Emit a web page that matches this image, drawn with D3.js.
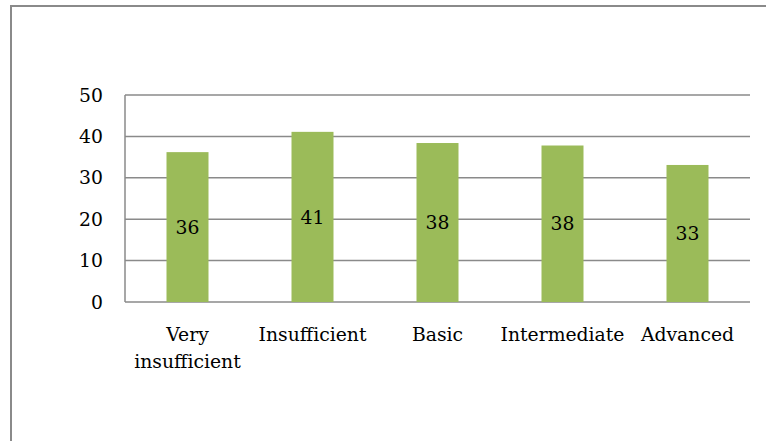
<!DOCTYPE html>
<html><head><meta charset="utf-8">
<script src="https://cdn.jsdelivr.net/npm/d3@7"></script>
<style>body{margin:0;background:#fff}svg{display:block}</style>
</head><body>
<svg id="c" width="766" height="441"></svg>
<script>
const categories = [["Very","insufficient"],["Insufficient"],["Basic"],["Intermediate"],["Advanced"]];
const values = [36.2, 41.1, 38.4, 37.8, 33.1];
const labels = ["36","41","38","38","33"];
const yTicks = [0,10,20,30,40,50];

const svg = d3.select("#c");
const font = "'DejaVu Serif'";
const fs = 18.8;
svg.append("rect").attr("x",11).attr("y",6).attr("width",800).attr("height",500)
  .attr("fill","#fff").attr("stroke","#8a8a8a").attr("stroke-width",2);

const m = {l:125, r:750, t:95, b:302};
const x = d3.scaleBand().domain(d3.range(categories.length)).range([m.l,m.r]).paddingInner(0.664).paddingOuter(0.332);
const y = d3.scaleLinear().domain([0,50]).range([m.b,m.t]);

const g = svg.append("g").style("font-family", font).style("font-size", fs+"px");
g.selectAll("line.grid").data(yTicks).join("line")
  .attr("x1",m.l).attr("x2",m.r).attr("y1",d=>y(d)).attr("y2",d=>y(d))
  .attr("stroke","#8a8a8a").attr("stroke-width",1.5);
g.append("line").attr("x1",m.l).attr("x2",m.l).attr("y1",m.t).attr("y2",m.b)
  .attr("stroke","#8a8a8a").attr("stroke-width",1.5);
g.selectAll("text.yt").data(yTicks).join("text")
  .attr("x",m.l-22).attr("y",d=>y(d)).attr("dy","0.35em").attr("text-anchor","end")
  .attr("fill","#000").text(d=>d);

g.selectAll("rect.bar").data(values).join("rect")
  .attr("x",(d,i)=>x(i)).attr("width",x.bandwidth())
  .attr("y",d=>y(d)).attr("height",d=>y(0)-y(d)).attr("fill","#9bbb59");

g.selectAll("text.dl").data(values).join("text")
  .attr("x",(d,i)=>x(i)+x.bandwidth()/2).attr("y",d=>(y(d)+y(0))/2).attr("dy","0.35em")
  .attr("text-anchor","middle").attr("fill","#000")
  .text((d,i)=>labels[i]);

const xl = g.selectAll("text.xl").data(categories).join("text")
  .attr("text-anchor","middle").attr("fill","#000");
xl.each(function(d,i){
  const t=d3.select(this);
  d.forEach((line,j)=>{
    t.append("tspan").attr("x",x(i)+x.bandwidth()/2).attr("y",341+j*26.5).text(line);
  });
});
</script>
</body></html>
